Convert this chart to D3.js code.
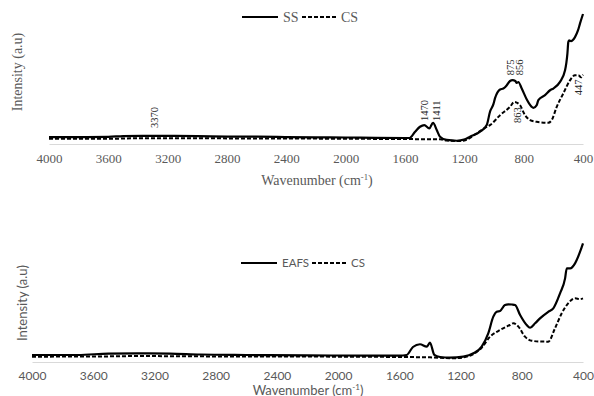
<!DOCTYPE html>
<html>
<head>
<meta charset="utf-8">
<script src="https://cdn.jsdelivr.net/npm/d3@7"></script>
<style>
  body { margin: 0; background: #fff; }
  svg { display: block; }
</style>
</head>
<body>
<svg id="chart" width="594" height="396"></svg>
<script>
// FTIR spectra, values: [wavenumber cm-1, intensity a.u.]
const ssTop = [
  [4000,5.3],[3800,5.3],[3600,5.5],[3500,6.1],[3370,6.3],[3200,6.3],[3000,6.1],[2800,5.7],
  [2600,5.6],[2400,5.3],[2200,5.1],[2000,5.0],[1800,4.7],[1600,4.6],[1570,4.6],[1532,9.4],
  [1499,13.2],[1470,14.5],[1436,12.0],[1411,16.3],[1386,10.7],[1364,5.6],[1319,3.1],[1251,2.5],
  [1202,3.4],[1162,5.6],[1094,9.4],[1049,14.5],[1027,24.7],[1004,30.5],[993,35.1],[959,41.8],
  [937,42.5],[914,45.0],[892,48.3],[875,48.9],[856,48.3],[847,46.8],[836,47.5],[813,42.5],
  [779,34.1],[746,28.5],[735,27.7],[712,29.8],[701,33.6],[656,37.4],[622,41.2],[600,42.5],
  [555,47.6],[521,56.5],[505,69.5],[499,78.1],[494,79.4],[481,78.9],[454,81.9],[434,87.0],
  [420,92.4],[400,99.6]
];
const csTop = [
  [4000,4.0],[3600,4.0],[3400,4.4],[3000,4.4],[2600,4.2],[2400,4.2],[2000,4.0],[1600,3.8],
  [1400,3.6],[1364,3.6],[1319,2.7],[1229,2.3],[1189,3.1],[1117,8.2],[1049,13.2],[1027,14.5],
  [959,22.1],[892,28.5],[863,32.3],[825,29.8],[791,22.1],[757,18.3],[712,17.0],[634,16.3],
  [611,18.3],[577,28.5],[533,38.7],[487,48.9],[454,52.7],[431,52.7],[413,51.1],[400,53.1]
];
const eafsBottom = [
  [4000,5.9],[3700,5.9],[3500,7.1],[3300,7.3],[3100,7.1],[2900,6.3],[2600,5.9],[2200,5.6],
  [1800,5.3],[1600,5.3],[1552,5.9],[1511,12.6],[1465,14.9],[1421,12.9],[1400,16.2],[1371,5.9],
  [1334,4.2],[1269,3.6],[1182,4.5],[1116,7.3],[1062,12.9],[1019,24.1],[986,38.1],[964,42.3],
  [942,42.9],[910,47.9],[888,48.5],[864,48.3],[844,47.9],[811,39.5],[768,31.1],[746,28.8],
  [713,32.5],[681,36.7],[626,42.3],[594,45.1],[550,57.7],[517,70.3],[506,78.7],[484,78.7],
  [452,82.9],[419,92.7],[400,99.7]
];
const csBottom = [
  [4000,4.5],[3600,4.6],[3300,5.0],[3000,4.8],[2600,4.6],[2000,4.5],[1600,4.2],[1400,3.9],
  [1247,3.1],[1184,3.8],[1116,6.7],[1062,12.0],[1007,21.3],[942,26.9],[877,31.1],[855,32.5],
  [822,29.7],[779,21.3],[735,17.9],[681,17.2],[627,17.1],[583,28.3],[539,40.9],[497,49.3],
  [452,53.5],[419,52.9],[400,53.5]
];

const xTicks = [4000, 3600, 3200, 2800, 2400, 2000, 1600, 1200, 800, 400];

// peak labels on the top panel: text, wavenumber where it sits, intensity of its lower end
const peakLabels = [
  { text: "3370", at: 3292, level: 12.2 },
  { text: "1470", at: 1472, level: 17.6 },
  { text: "1411", at: 1386, level: 17.6 },
  { text: "875",  at: 892,  level: 52.7 },
  { text: "856",  at: 831,  level: 52.7 },
  { text: "863",  at: 843,  level: 16.0 },
  { text: "447",  at: 434,  level: 37.4 }
];

const svg = d3.select("#chart");
const grey = "#595959";

function drawPanel(cfg) {
  const x = d3.scaleLinear().domain([4000, 400]).range(cfg.xRange);
  const y = d3.scaleLinear().domain([0, 100]).range(cfg.yRange);
  const g = svg.append("g").attr("font-family", cfg.font);

  // x axis: light grey baseline, no ticks
  const axis = g.append("g")
    .attr("transform", `translate(0,${cfg.yRange[0]})`)
    .call(d3.axisBottom(x).tickValues(xTicks).tickSize(0).tickPadding(cfg.pad).tickFormat(d3.format("d")))
    .attr("font-family", cfg.font);
  axis.select(".domain").attr("stroke", "#d9d9d9").attr("stroke-width", 1);
  axis.selectAll("text")
    .attr("fill", grey)
    .style("font-size", cfg.tickSize + "px");

  const line = d3.line()
    .x(d => x(d[0]))
    .y(d => y(d[1]))
    .curve(d3.curveMonotoneX);

  g.append("path").datum(cfg.series[1])
    .attr("fill", "none").attr("stroke", "#000").attr("stroke-width", 2)
    .attr("stroke-dasharray", "4,2").attr("d", line);
  g.append("path").datum(cfg.series[0])
    .attr("fill", "none").attr("stroke", "#000").attr("stroke-width", 2.2)
    .attr("stroke-linejoin", "round").attr("d", line);

  // titles
  const xt = g.append("text")
    .attr("x", cfg.xTitle[0]).attr("y", cfg.xTitle[1])
    .attr("text-anchor", "middle").attr("fill", grey)
    .style("font-size", cfg.titleSize + "px");
  xt.append("tspan").text("Wavenumber (cm");
  xt.append("tspan").attr("dy", -5).style("font-size", (cfg.titleSize * 0.62) + "px").text("-1");
  xt.append("tspan").attr("dy", 5).text(")");

  g.append("text")
    .attr("transform", `translate(${cfg.yTitle[0]},${cfg.yTitle[1]}) rotate(-90)`)
    .attr("text-anchor", "middle").attr("fill", grey)
    .style("font-size", cfg.titleSize + "px")
    .text("Intensity (a.u)");

  // legend
  const lg = g.append("g").attr("transform", `translate(${cfg.legend[0]},${cfg.legend[1]})`);
  lg.append("line").attr("x1", 0).attr("x2", 36).attr("stroke", "#000").attr("stroke-width", 2.2);
  lg.append("text").attr("x", 41).attr("dy", "0.35em").attr("fill", grey)
    .style("font-size", cfg.legendSize + "px").text(cfg.names[0]);
  lg.append("line").attr("x1", cfg.legendGap).attr("x2", cfg.legendGap + 36)
    .attr("stroke", "#000").attr("stroke-width", 2).attr("stroke-dasharray", "4,2");
  lg.append("text").attr("x", cfg.legendGap + 39).attr("dy", "0.35em").attr("fill", grey)
    .style("font-size", cfg.legendSize + "px").text(cfg.names[1]);

  // rotated peak labels
  (cfg.labels || []).forEach(p => {
    g.append("text")
      .attr("transform", `translate(${x(p.at)},${y(p.level)}) rotate(-90)`)
      .attr("dy", "0.35em").attr("fill", "#262626")
      .style("font-size", "10.5px")
      .text(p.text);
  });
}

drawPanel({
  xRange: [49, 583], yRange: [144, 13.5],
  series: [ssTop, csTop], names: ["SS", "CS"],
  font: "Liberation Serif, Times New Roman, serif",
  tickSize: 13, titleSize: 14, legendSize: 14, pad: 10,
  xTitle: [317, 185], yTitle: [21.5, 72],
  legend: [242, 17], legendGap: 60,
  labels: peakLabels
});

drawPanel({
  xRange: [32, 583], yRange: [362, 243],
  series: [eafsBottom, csBottom], names: ["EAFS", "CS"],
  font: "Lato, Open Sans, sans-serif",
  tickSize: 12, titleSize: 13, legendSize: 11.5, pad: 9.5,
  xTitle: [308, 394.5], yTitle: [26.5, 303],
  legend: [241, 263], legendGap: 71
});
</script>
</body>
</html>
